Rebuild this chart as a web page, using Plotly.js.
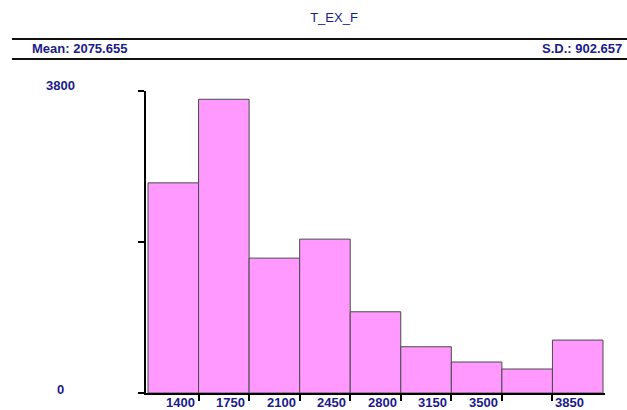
<!DOCTYPE html>
<html>
<head>
<meta charset="utf-8">
<script src="https://cdn.plot.ly/plotly-3.0.1.min.js"></script>
<style>
html,body{margin:0;padding:0;background:#fff;}
#chart{width:627px;height:410px;}
</style>
</head>
<body>
<div id="chart"></div>
<script>
// Data
const chartTitle = "T_EX_F";
const meanText = "Mean: 2075.655";
const sdText = "S.D.: 902.657";
const binStarts = [1050, 1400, 1750, 2100, 2450, 2800, 3150, 3500, 3850];
const binWidth = 350;
const counts = [2644, 3696, 1697, 1936, 1022, 582, 390, 302, 666];
const xTickVals = [1400, 1750, 2100, 2450, 2800, 3150, 3500, 3850];
const xTickLabels = ["1400", "1750", "2100", "2450", "2800", "3150", "3500", "3850"];
const yTickVals = [0, 1900, 3800];
const yLabelVals = [0, 3800];
const yLabelTexts = ["0", "3800"];

// layout helpers (pixel -> paper)
const W = 627, H = 410;
const mL = 146, mR = 22, mT = 91, mB = 17;
const pw = W - mL - mR, ph = H - mT - mB;
const px = X => (X - mL) / pw;
const py = Y => (H - mB - Y) / ph;

const navy = "#1b1b8a";
const labFont = {family: "Liberation Sans, Arial, sans-serif", size: 13, color: navy, weight: "bold"};

const annotations = [];
xTickVals.forEach((v, i) => {
  const last = i === xTickVals.length - 1;
  annotations.push({
    x: v, xref: "x", y: 0, yref: "y",
    text: "<b>" + xTickLabels[i] + "</b>",
    showarrow: false,
    xanchor: last ? "left" : "right",
    yanchor: "middle",
    xshift: last ? 1 : -2,
    yshift: -9,
    font: labFont
  });
});
yLabelVals.forEach((v, i) => {
  annotations.push({
    x: px(60), xref: "paper", y: v, yref: "y",
    text: "<b>" + yLabelTexts[i] + "</b>",
    showarrow: false, xanchor: "center", yanchor: "middle",
    yshift: v === 0 ? 4 : 6,
    font: labFont
  });
});
annotations.push({
  x: px(30), xref: "paper", y: py(48.5), yref: "paper",
  text: "<b>" + meanText + "</b>", showarrow: false,
  xanchor: "left", yanchor: "middle", font: labFont
});
annotations.push({
  x: px(624), xref: "paper", y: py(48.5), yref: "paper",
  text: "<b>" + sdText + "</b>", showarrow: false,
  xanchor: "right", yanchor: "middle", font: labFont
});

const shapes = [
  {type: "line", xref: "paper", yref: "paper", x0: px(12), x1: px(627), y0: py(39), y1: py(39), line: {color: "#111", width: 2}},
  {type: "line", xref: "paper", yref: "paper", x0: px(12), x1: px(627), y0: py(59), y1: py(59), line: {color: "#111", width: 2}}
];

const ppu = 455 / 3150;
const xr0 = 1050 - 2 / ppu;
const xr1 = xr0 + pw / ppu;

const trace = {
  type: "bar",
  x: binStarts,
  y: counts,
  width: binWidth,
  offset: 0,
  marker: {color: "#ff99ff", line: {color: "#4a4a4a", width: 1}},
  hoverinfo: "skip"
};

const layout = {
  width: W, height: H,
  margin: {l: mL, r: mR, t: mT, b: mB, pad: 0},
  paper_bgcolor: "#fff", plot_bgcolor: "#fff",
  showlegend: false,
  bargap: 0,
  title: {
    text: chartTitle,
    x: 334 / W, xanchor: "center",
    y: 1 - 17 / H, yanchor: "middle",
    xref: "container", yref: "container",
    font: {family: "Liberation Sans, Arial, sans-serif", size: 13, color: navy}
  },
  xaxis: {
    range: [xr0, xr1], showgrid: false, zeroline: false,
    showline: true, linecolor: "#000", linewidth: 2,
    tickmode: "array", tickvals: xTickVals, ticks: "outside",
    ticklen: 6, tickwidth: 2, tickcolor: "#000",
    showticklabels: false, fixedrange: true
  },
  yaxis: {
    range: [0, 3800], showgrid: false, zeroline: false,
    showline: true, linecolor: "#000", linewidth: 2,
    tickmode: "array", tickvals: yTickVals, ticks: "outside",
    ticklen: 6, tickwidth: 2, tickcolor: "#000",
    showticklabels: false, fixedrange: true
  },
  annotations: annotations,
  shapes: shapes
};

Plotly.newPlot("chart", [trace], layout, {displayModeBar: false, staticPlot: true});
</script>
</body>
</html>
